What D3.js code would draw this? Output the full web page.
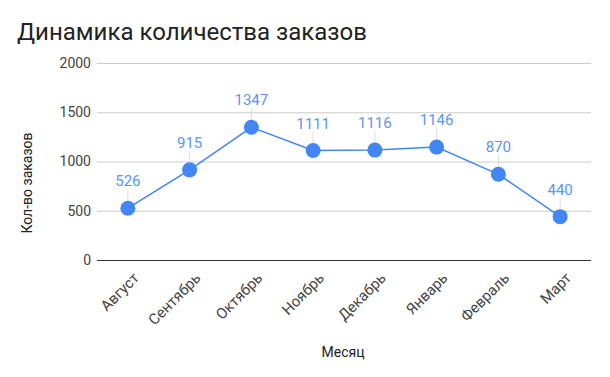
<!DOCTYPE html>
<html><head><meta charset="utf-8">
<script src="https://cdn.jsdelivr.net/npm/d3@7"></script>
<style>body{margin:0;background:#fff;font-family:Roboto,Arial,sans-serif}</style>
</head><body>
<svg id="c" width="610" height="377"></svg>
<script>
const months = ["Август","Сентябрь","Октябрь","Ноябрь","Декабрь","Январь","Февраль","Март"];
const orders = [526,915,1347,1111,1116,1146,870,440];
const yTicks = [0,500,1000,1500,2000];

const svg = d3.select("#c");
const m = {l:97, r:591, t:63, b:260};
const x = d3.scaleBand().domain(months).range([m.l, m.r]);
const y = d3.scaleLinear().domain([0,2000]).range([m.b, m.t]);
const blue = "#4285F4";
const ff = "Roboto,Arial,sans-serif";

svg.append("rect").attr("width",610).attr("height",377).attr("fill","#fff");
svg.append("text").attr("x",17).attr("y",40).attr("font-size",24).attr("fill","#222")
  .attr("font-family",ff).text("Динамика количества заказов");

// grid
const ga = svg.append("g").attr("transform",`translate(${m.l},0)`)
  .call(d3.axisLeft(y).tickValues(yTicks).tickFormat(d3.format("d")).tickSize(-(m.r-m.l)).tickPadding(6));
ga.select(".domain").remove();
ga.selectAll(".tick line").attr("stroke", d=> d===0 ? "#333":"#ccc").attr("stroke-width",1);
ga.selectAll(".tick text").attr("font-size",14).attr("fill","#444").attr("font-family",ff);

// x axis
const xa = svg.append("g").attr("transform",`translate(0,${m.b})`)
  .call(d3.axisBottom(x).tickSize(0));
xa.select(".domain").remove();
xa.selectAll(".tick text").attr("font-size",15).attr("fill","#444").attr("font-family",ff)
  .attr("text-anchor","end").attr("x",0).attr("y",0).attr("dx",0).attr("dy",0)
  .attr("transform","translate(12,19) rotate(-45)");

// axis titles
svg.append("text").attr("transform",`translate(32,183) rotate(-90)`)
  .attr("text-anchor","middle").attr("font-size",14).attr("fill","#222").attr("font-family",ff).text("Кол-во заказов");
svg.append("text").attr("x",343).attr("y",357).attr("text-anchor","middle")
  .attr("font-size",14).attr("fill","#222").attr("font-family",ff).text("Месяц");

const cx = d => x(d) + x.bandwidth()/2;
const pts = months.map((mo,i)=>({mo, v:orders[i]}));

// leader lines
svg.selectAll(".lead").data(pts).enter().append("line")
  .attr("x1",d=>cx(d.mo)).attr("x2",d=>cx(d.mo))
  .attr("y1",d=>y(d.v)-19).attr("y2",d=>y(d.v)-6)
  .attr("stroke","#ddd").attr("stroke-width",1);

svg.append("path").datum(pts)
  .attr("d", d3.line().x(d=>cx(d.mo)).y(d=>y(d.v)))
  .attr("fill","none").attr("stroke",blue).attr("stroke-width",1.5);

svg.selectAll(".pt").data(pts).enter().append("circle")
  .attr("cx",d=>cx(d.mo)).attr("cy",d=>y(d.v)).attr("r",7.5).attr("fill",blue);

svg.selectAll(".lbl").data(pts).enter().append("text")
  .attr("x",d=>cx(d.mo)).attr("y",d=>y(d.v)-22).attr("text-anchor","middle")
  .attr("font-size",15).attr("fill","#5a95f5").attr("font-family",ff).text(d=>d.v);
</script>
</body></html>
